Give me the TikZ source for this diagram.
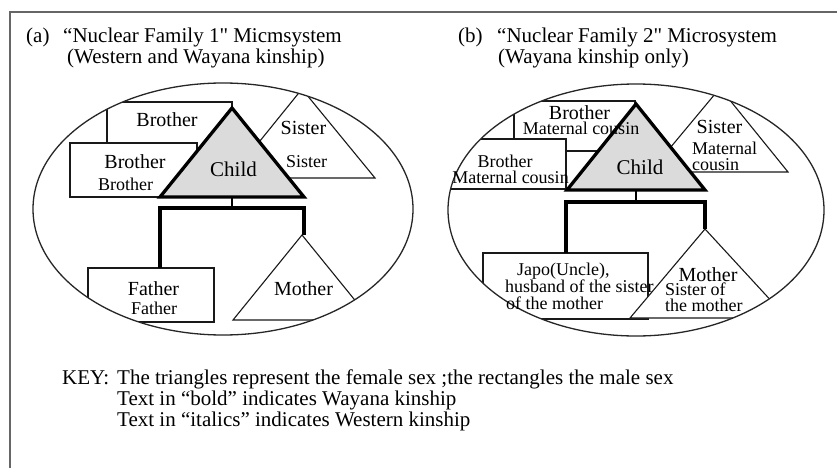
\documentclass[tikz,border=0pt]{standalone}
\usepackage{fontspec}
\setmainfont{Liberation Serif}
\newcommand{\sq}{\XeTeXglyph\XeTeXcharglyph"22\relax}
\begin{document}
\begin{tikzpicture}[x=1pt,y=-1pt,
  shp/.style={draw=black!90,line width=1.1pt,fill=white,line join=miter},
  kidfill/.style={fill=black!14},
  kid/.style={draw=black,line width=3.3pt,line join=miter},
  conn/.style={draw=black,line width=3.8pt,line join=miter},
  stem/.style={draw=black,line width=2.4pt},
  oval/.style={draw=black!85,line width=1.3pt},
  frm/.style={draw=black!60,line width=1.2pt},
  big/.style={font=\fontsize{20}{22}\selectfont,inner sep=0pt,anchor=base},
  sml/.style={font=\fontsize{18}{18}\selectfont,inner sep=0pt,anchor=base},
  smlw/.style={font=\fontsize{18}{18}\selectfont,inner sep=0pt,anchor=base west},
  chl/.style={font=\fontsize{21}{21}\selectfont,inner sep=0pt,anchor=base},
  ttl/.style={font=\fontsize{21}{21}\selectfont,inner sep=0pt,anchor=base west},
  keyt/.style={font=\fontsize{21}{21}\selectfont,inner sep=0pt,anchor=base west},
]
\useasboundingbox (0,0) rectangle (837,468);
\fill[white] (0,0) rectangle (837,468);
% frame
\draw[frm] (10,468) -- (10,12) -- (837,12);

% ================= panel (a) =================
\node[ttl] (aTag) at (26,43) {(a)};
\node[ttl] (aT1) at (63,43) {“Nuclear Family 1\sq{} Micmsystem};
\node[ttl] (aT2) at (67,64) {(Western and Wayana kinship)};

\begin{scope}
  \clip (223,209) ellipse [x radius=190pt, y radius=126pt];
  \draw[shp] (107,102) rectangle (232,160);
  \draw[shp] (70,143) rectangle (197,197);
  \draw[shp] (302,89) -- (375,178) -- (230,178) -- cycle;
  \draw[shp] (88,268) rectangle (214,322);
  \draw[shp] (302,235) -- (371,320) -- (233,320) -- cycle;
\end{scope}
\coordinate (aApex) at (232,108);
\coordinate (aBL) at (160,197);
\coordinate (aBR) at (304,197);
\fill[kidfill] (aApex) -- (aBR) -- (aBL) -- cycle;
\draw[kid] (aApex) -- (aBR) -- (aBL) -- cycle;
\coordinate (aStemTop) at (232,197);
\coordinate (aStemBot) at (232,208);
\coordinate (aBarL) at (160,208);
\coordinate (aBarR) at (304,208);
\coordinate (aFatherTop) at (160,268);
\coordinate (aMotherTop) at (304,235);
\draw[stem] (aStemTop) -- (aStemBot);
\draw[conn] (aFatherTop) -- (aBarL) -- (aBarR) -- (aMotherTop);
\draw[oval] (223,209) ellipse [x radius=190pt, y radius=126pt];

\node[big] (aBro1) at (167,126.5) {Brother};
\node[big] (aBro2) at (135,168) {Brother};
\node[sml] (aBro2s) at (125.5,190) {Brother};
\node[chl] (aChild) at (233.5,176.5) {Child};
\node[big] (aSis) at (303.5,134) {Sister};
\node[sml] (aSiss) at (306.5,167) {Sister};
\node[big] (aFa) at (153.5,295.5) {Father};
\node[sml] (aFas) at (154,314) {Father};
\node[big] (aMo) at (303.5,295.5) {Mother};

% ================= panel (b) =================
\node[ttl] (bTag) at (458,43) {(b)};
\node[ttl] (bT1) at (497,43) {“Nuclear Family 2\sq{} Microsystem};
\node[ttl] (bT2) at (498,64) {(Wayana kinship only)};

\begin{scope}
  \clip (636,210) ellipse [x radius=188pt, y radius=126pt];
  \draw[shp] (514,101) rectangle (635,151);
  \draw[shp] (430,139) rectangle (566,189);
  \draw[shp] (720,88) -- (788,172) -- (650,172) -- cycle;
  \draw[shp] (483,253) rectangle (648,319);
  \draw[shp] (705,229) -- (787,318) -- (630,318) -- cycle;
\end{scope}
\coordinate (bApex) at (636,104);
\coordinate (bBL) at (567,190);
\coordinate (bBR) at (705,190);
\fill[kidfill] (bApex) -- (bBR) -- (bBL) -- cycle;
\node[big] (bBro1) at (579.5,119) {Brother};
\node[sml] (bBro1s) at (581,134) {Maternal cousin};
\draw[kid] (bApex) -- (bBR) -- (bBL) -- cycle;
\coordinate (bStemTop) at (636,190);
\coordinate (bStemBot) at (636,202);
\coordinate (bBarL) at (566,202);
\coordinate (bBarR) at (705,202);
\coordinate (bUncleTop) at (566,253);
\coordinate (bMotherTop) at (705,229);
\draw[stem] (bStemTop) -- (bStemBot);
\draw[conn] (bUncleTop) -- (bBarL) -- (bBarR) -- (bMotherTop);
\draw[oval] (636,210) ellipse [x radius=188pt, y radius=126pt];

\node[sml] (bBro2) at (505,167) {Brother};
\node[sml] (bBro2s) at (510.5,183) {Maternal cousin};
\node[chl] (bChild) at (640,174) {Child};
\node[big] (bSis) at (719.5,133) {Sister};
\node[smlw] (bSis1) at (692,154) {Maternal};
\node[smlw] (bSis2) at (692,170) {cousin};
\node[smlw] (bJ1) at (517,275) {Japo(Uncle),};
\node[smlw] (bJ2) at (505,292) {husband of the sister};
\node[smlw] (bJ3) at (506,309) {of the mother};
\node[big] (bMo) at (708,281) {Mother};
\node[smlw] (bMo1) at (665,295) {Sister of};
\node[smlw] (bMo2) at (665,311) {the mother};

% ================= key =================
\node[keyt] (kKey) at (62,384) {KEY:};
\node[keyt] (k1) at (117,384) {The triangles represent the female sex ;the rectangles the male sex};
\node[keyt] (k2) at (117,405) {Text in “bold” indicates Wayana kinship};
\node[keyt] (k3) at (117,426) {Text in “italics” indicates Western kinship};
\end{tikzpicture}
\end{document}
